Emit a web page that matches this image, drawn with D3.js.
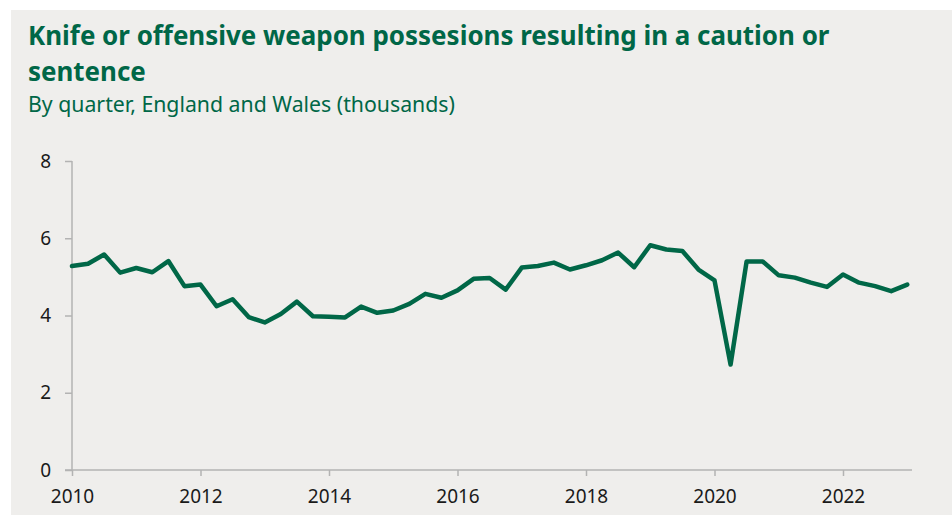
<!DOCTYPE html>
<html>
<head>
<meta charset="utf-8">
<script src="https://cdn.jsdelivr.net/npm/d3@7"></script>
<style>
  html, body { margin: 0; padding: 0; background: #ffffff; }
  svg { display: block; }
</style>
</head>
<body>
<svg id="chart" width="952" height="515"></svg>
<script>
// ---- Data ----
const titleLines = ["Knife or offensive weapon possesions resulting in a caution or", "sentence"];
const subtitle = "By quarter, England and Wales (thousands)";
const startYear = 2010;
const quarterValues = [
  5.28, 5.34, 5.58, 5.11, 5.23, 5.12, 5.41, 4.76,
  4.80, 4.24, 4.42, 3.96, 3.82, 4.04, 4.36, 3.98,
  3.97, 3.95, 4.23, 4.07, 4.13, 4.30, 4.56, 4.46,
  4.65, 4.95, 4.97, 4.67, 5.24, 5.28, 5.37, 5.19,
  5.30, 5.43, 5.63, 5.25, 5.82, 5.71, 5.67, 5.19,
  4.91, 2.73, 5.40, 5.40, 5.04, 4.98, 4.85, 4.74,
  5.06, 4.85, 4.76, 4.63, 4.80
];
const xTickYears = [2010, 2012, 2014, 2016, 2018, 2020, 2022];
const yTickValues = [0, 2, 4, 6, 8];

// ---- Layout ----
const svg = d3.select("#chart");
const W = 952, H = 515;
const green = "#006747";
const axisColor = "#b3b3b3";

svg.append("rect").attr("x", 11).attr("y", 10).attr("width", W - 11).attr("height", H - 10)
  .attr("fill", "#efeeec");

// Title
const t1 = svg.append("text").attr("x", 28).attr("y", 44.5)
  .attr("fill", green).attr("font-family", "'Noto Sans', 'Open Sans', sans-serif")
  .attr("font-weight", 700).attr("font-size", 26).text(titleLines[0]);
// fit width
const targetW = 802;
let fs = 26 * targetW / t1.node().getComputedTextLength();
t1.attr("font-size", fs);
svg.append("text").attr("x", 28).attr("y", 81)
  .attr("fill", green).attr("font-family", "'Noto Sans', 'Open Sans', sans-serif")
  .attr("font-weight", 700).attr("font-size", fs).text(titleLines[1]);

const st = svg.append("text").attr("x", 28).attr("y", 112)
  .attr("fill", green).attr("font-family", "'Noto Sans', 'Open Sans', sans-serif")
  .attr("font-weight", 400).attr("font-size", 19).text(subtitle);
const stW = st.node().getComputedTextLength();
st.attr("font-size", 19 * 427 / stW);

// Scales
const x0 = 72, x1 = 912;
const pxPerYear = (843.3 - 72.3) / 12;
const x = d3.scaleLinear()
  .domain([startYear, startYear + (x1 - x0) / pxPerYear])
  .range([x0, x1]);
const y = d3.scaleLinear().domain([0, 8]).range([470, 161]);

const data = quarterValues.map((v, i) => ({ t: startYear + i / 4, v }));

// Y axis
const yAxis = svg.append("g").attr("transform", `translate(${x0},0)`)
  .call(d3.axisLeft(y).tickValues(yTickValues).tickSize(7).tickPadding(14).tickFormat(d3.format("d")));
yAxis.select(".domain").attr("stroke", axisColor).attr("stroke-width", 1.5)
  .attr("d", `M0,${y(8)}V${y(0)}`);
yAxis.selectAll(".tick line").attr("stroke", axisColor).attr("stroke-width", 1.5);
yAxis.selectAll(".tick text").attr("fill", "#1a1a1a")
  .attr("font-family", "'Noto Sans', 'Open Sans', sans-serif").attr("font-size", 19);

// X axis
const xAxis = svg.append("g").attr("transform", `translate(0,${y(0)})`)
  .call(d3.axisBottom(x).tickValues(xTickYears).tickSize(6).tickPadding(14).tickFormat(d3.format("d")));
xAxis.select(".domain").attr("stroke", axisColor).attr("stroke-width", 1.5)
  .attr("d", `M${x0 - 7},0H${x1}`);
xAxis.selectAll(".tick line").attr("stroke", axisColor).attr("stroke-width", 1.5);
xAxis.selectAll(".tick text").attr("fill", "#1a1a1a")
  .attr("font-family", "'Noto Sans', 'Open Sans', sans-serif").attr("font-size", 19);

// Line
const line = d3.line().x(d => x(d.t)).y(d => y(d.v));
svg.append("path").datum(data)
  .attr("d", line)
  .attr("fill", "none")
  .attr("stroke", green)
  .attr("stroke-width", 4.5)
  .attr("stroke-linejoin", "round")
  .attr("stroke-linecap", "round");
</script>
</body>
</html>
